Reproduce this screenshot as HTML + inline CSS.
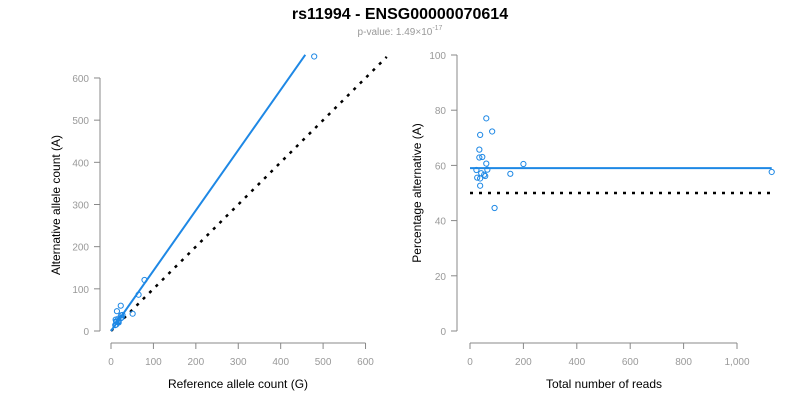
<!DOCTYPE html>
<html><head><meta charset="utf-8"><style>
body{margin:0;background:#fff;width:800px;height:400px;overflow:hidden;font-family:"Liberation Sans",Arial,sans-serif}
</style></head><body>
<svg id="c" width="800" height="400" xmlns="http://www.w3.org/2000/svg" font-family="Liberation Sans, Arial, sans-serif">
<text x="400" y="19" text-anchor="middle" font-size="16" font-weight="bold" fill="#000">rs11994 - ENSG00000070614</text>
<text x="400" y="35" text-anchor="middle" font-size="10" fill="#999">p-value: 1.49×10<tspan dy="-5" font-size="7">-17</tspan></text>
<g id="left"></g>
<g id="right"></g>
</svg>
<script>
const refCounts=[14,11,23,12,13,17,24,27,10,18,12,25,23,17,18,79,65,51,479];
const altCounts=[47,27,60,23,22,29,37,38,14,24,15,32,30,21,20,121,86,41,651];
const leftXTicks=[0,100,200,300,400,500,600];
const leftYTicks=[0,100,200,300,400,500,600];
const rightXTicks=[0,200,400,600,800,1000];
const rightXTickLabels=["0","200","400","600","800","1,000"];
const rightYTicks=[0,20,40,60,80,100];
const fitSlope=[1.43];
const fitMaxRef=[458];
const fitPct=[59];
const nullPct=[50];
const nullMaxRef=[650];

const NS="http://www.w3.org/2000/svg";
function mk(p,t,a){const e=document.createElementNS(NS,t);for(const k in a)e.setAttribute(k,a[k]);p.appendChild(e);return e;}
const L=document.getElementById('left'),R=document.getElementById('right');
const lx=v=>111+v*0.4242, ly=v=>331-v*0.4217;
const rx=v=>470+v*0.267, ry=v=>331-v*2.76;
const AX="#888";

let e=mk(L,'line',{x1:lx(0),x2:lx(600),y1:343,y2:343,stroke:AX});


leftXTicks.forEach(v=>{mk(L,'line',{x1:lx(v),x2:lx(v),y1:343,y2:349,stroke:AX});
 const t=mk(L,'text',{x:lx(v),y:365,'text-anchor':'middle','font-size':10,fill:'#999'});t.textContent=v;
 
 });
e=mk(L,'line',{x1:100,x2:100,y1:ly(0),y2:ly(600),stroke:AX});


leftYTicks.forEach(v=>{mk(L,'line',{x1:94,x2:100,y1:ly(v),y2:ly(v),stroke:AX});
 const t=mk(L,'text',{x:89,y:ly(v)+4,'text-anchor':'end','font-size':10,fill:'#999'});t.textContent=v;
 
 });
e=mk(L,'text',{x:238,y:388,'text-anchor':'middle','font-size':12,fill:'#000'});e.textContent='Reference allele count (G)';


e=mk(L,'text',{x:60,y:205,'text-anchor':'middle','font-size':12,fill:'#000',transform:'rotate(-90 60 205)'});e.textContent='Alternative allele count (A)';


e=mk(L,'line',{x1:lx(0),y1:ly(0),x2:lx(nullMaxRef[0]),y2:ly(nullMaxRef[0]),stroke:'#000','stroke-width':2.5,'stroke-dasharray':'3 6'});


e=mk(L,'line',{x1:lx(0),y1:ly(0),x2:lx(fitMaxRef[0]),y2:ly(fitMaxRef[0]*fitSlope[0]),stroke:'#1e88e5','stroke-width':2});


refCounts.forEach((r,i)=>{const c=mk(L,'circle',{cx:lx(r),cy:ly(altCounts[i]),r:2.6,fill:'none',stroke:'#1e88e5','stroke-width':1});
 
 });

e=mk(R,'line',{x1:rx(0),x2:rx(1000),y1:343,y2:343,stroke:AX});


rightXTicks.forEach((v,i)=>{mk(R,'line',{x1:rx(v),x2:rx(v),y1:343,y2:349,stroke:AX});
 const t=mk(R,'text',{x:rx(v),y:365,'text-anchor':'middle','font-size':10,fill:'#999'});t.textContent=rightXTickLabels[i];
 
 });
e=mk(R,'line',{x1:457,x2:457,y1:ry(0),y2:ry(100),stroke:AX});


rightYTicks.forEach(v=>{mk(R,'line',{x1:451,x2:457,y1:ry(v),y2:ry(v),stroke:AX});
 const t=mk(R,'text',{x:446,y:ry(v)+4,'text-anchor':'end','font-size':10,fill:'#999'});t.textContent=v;
 
 });
e=mk(R,'text',{x:604,y:388,'text-anchor':'middle','font-size':12,fill:'#000'});e.textContent='Total number of reads';


e=mk(R,'text',{x:421,y:193,'text-anchor':'middle','font-size':12,fill:'#000',transform:'rotate(-90 421 193)'});e.textContent='Percentage alternative (A)';


const totals=refCounts.map((r,i)=>r+altCounts[i]);
const maxT=Math.max(...totals);
e=mk(R,'line',{x1:rx(0),y1:ry(nullPct[0]),x2:rx(maxT),y2:ry(nullPct[0]),stroke:'#000','stroke-width':2.5,'stroke-dasharray':'3 6'});


e=mk(R,'line',{x1:rx(0),y1:ry(fitPct[0]),x2:rx(maxT),y2:ry(fitPct[0]),stroke:'#1e88e5','stroke-width':2});


totals.forEach((t,i)=>{const c=mk(R,'circle',{cx:rx(t),cy:ry(100*altCounts[i]/t),r:2.6,fill:'none',stroke:'#1e88e5','stroke-width':1});
 
 });
</script>
</body></html>
